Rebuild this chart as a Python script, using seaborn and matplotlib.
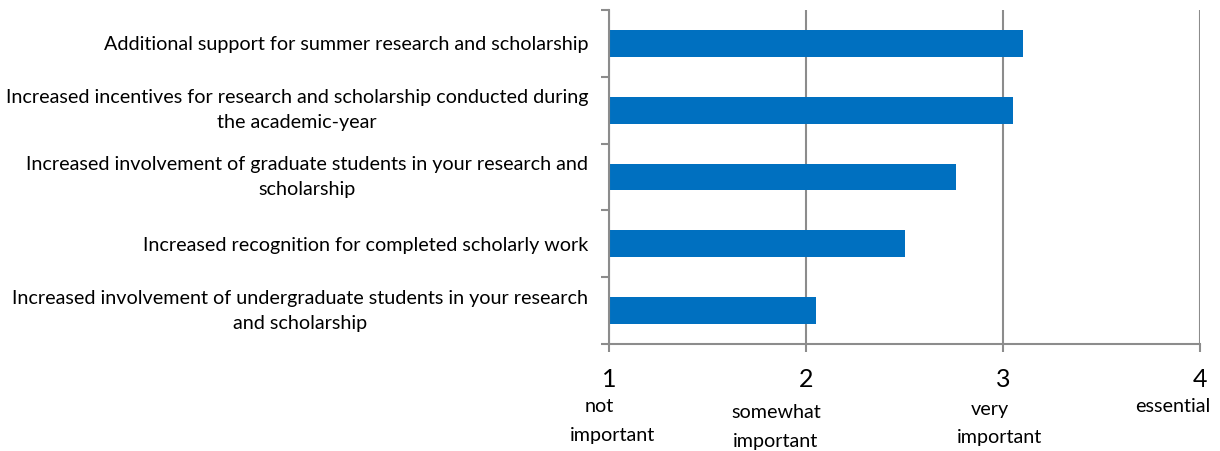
import matplotlib
matplotlib.use("Agg")
import matplotlib.pyplot as plt
import matplotlib.transforms as mtransforms
import pandas as pd
import seaborn as sns

# Survey items and mean importance ratings (1 = not important ... 4 = essential)
items = [
    "Additional support for summer research and scholarship",
    "Increased incentives for research and scholarship conducted during\nthe academic-year",
    "Increased involvement of graduate students in your research and\nscholarship",
    "Increased recognition for completed scholarly work",
    "Increased involvement of undergraduate students in your research\nand scholarship",
]
ratings = [3.10, 3.05, 2.76, 2.50, 2.05]

scale_values = [1, 2, 3, 4]
scale_numbers = ["1", "2", "3", "4"]
scale_words = [
    ["not", "important"],
    ["somewhat", "important"],
    ["very", "important"],
    ["essential"],
]

sns.set_theme(style="white")
plt.rcParams["font.family"] = ["Lato", "DejaVu Sans"]

BLUE = "#0070C0"
GRID = "#8C8C8C"
LABEL_SIZE = 14.2

df = pd.DataFrame({"item": items, "rating": ratings})

fig = plt.figure(figsize=(12.2, 4.51), dpi=100)
ax = fig.add_axes([609 / 1220, 1 - 344 / 451, (1200 - 609) / 1220, (344 - 10) / 451])

# bars start at the scale origin (1)
sns.barplot(data=df, y="item", x="rating", orient="h", color=BLUE,
            width=0.40, ax=ax, saturation=1)
for patch, val in zip(ax.patches, ratings):
    patch.set_x(1)
    patch.set_width(val - 1)
    patch.set_edgecolor("none")

ax.set_xlim(1, 4)
ax.set_ylim(len(items) - 0.5, -0.5)
ax.set_xlabel("")
ax.set_ylabel("")

# vertical gridlines
ax.set_xticks(scale_values)
ax.xaxis.grid(True, color=GRID, linewidth=1.5)
ax.yaxis.grid(False)
ax.set_axisbelow(True)

for side in ["top", "right"]:
    ax.spines[side].set_visible(False)
for side in ["left", "bottom"]:
    ax.spines[side].set_color(GRID)
    ax.spines[side].set_linewidth(1.5)

# y: category labels without tick marks; tick marks on category boundaries
ax.tick_params(axis="y", which="major", length=0, pad=15, labelsize=LABEL_SIZE,
               labelcolor="black")
for lab in ax.get_yticklabels():
    lab.set_horizontalalignment("right")
    lab.set_multialignment("center")
    lab.set_linespacing(1.58)
    if "\n" in lab.get_text():
        lab.set_verticalalignment("center")
ax.set_yticks([i - 0.5 for i in range(len(items) + 1)], minor=True)
ax.tick_params(axis="y", which="minor", left=True, length=6, width=1.5, color=GRID)

# x: scale numbers with tick marks below the axis
ax.set_xticklabels(scale_numbers)
ax.tick_params(axis="x", which="major", bottom=True, length=6, width=1.5,
               color=GRID, pad=11, labelsize=18, labelcolor="black")

# descriptive words under the scale numbers
word_x_offsets = [[-10, 4], [-30, -30], [-13, -3], [-27]]
word_y_px = [[407, 436], [413, 441], [409, 437], [407]]
trans = mtransforms.blended_transform_factory(ax.transData, fig.transFigure)
for val, words, dxs, ys in zip(scale_values, scale_words, word_x_offsets, word_y_px):
    for word, dx, ypx in zip(words, dxs, ys):
        off = mtransforms.offset_copy(trans, fig=fig, x=dx, y=0, units="dots")
        ax.text(val, 1 - ypx / 451, word, transform=off, ha="center", va="center",
                fontsize=LABEL_SIZE, color="black", clip_on=False)

fig.savefig("out.png", dpi=100)
